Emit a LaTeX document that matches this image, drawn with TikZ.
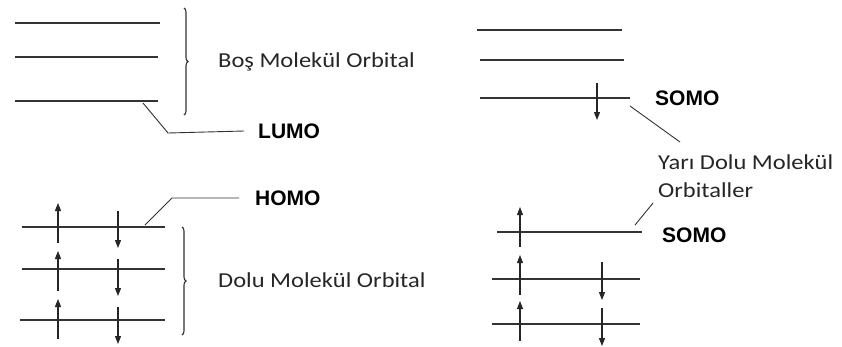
\documentclass[tikz,border=0pt]{standalone}
\usepackage{fontspec}
\setmainfont{Carlito}[FakeStretch=1.15]
\newfontfamily\tagfont{Liberation Sans}
\usetikzlibrary{positioning,arrows.meta,decorations.pathreplacing}
\definecolor{lvInk}{HTML}{333333}
\definecolor{txInk}{HTML}{262626}
\tikzset{
  level/.style={draw=lvInk, line width=2.8pt},
  pin/.style={draw=lvInk, line width=0.9pt},
  spin/.style={draw=txInk, line width=1.1pt, -{Triangle[length=8pt,width=6pt]}},
  grp/.style={draw=lvInk, line width=1.1pt, decorate,
    decoration={brace, amplitude=4pt}},
  desc/.style={font=\fontsize{21.3}{28}\selectfont, text=txInk, anchor=west,
    inner sep=0pt, align=left},
  tag/.style={font=\tagfont\bfseries\fontsize{21}{22}\selectfont, text=black,
    anchor=west, inner sep=0pt},
}

\begin{document}
\begin{tikzpicture}[x=1pt,y=-1pt]
  \useasboundingbox (0,0) rectangle (842,346);
  % bos orbitaller (sol)
  \draw[level] (15,23) coordinate (b1w) -- (160,23) coordinate (b1e);
  \draw[level] (15,57) coordinate (b2w) -- (158,57) coordinate (b2e);
  \draw[level] (15,101) coordinate (lumow) -- (158,101) coordinate (lumoe);
  \coordinate (lumopin) at (143,103);
  \draw[grp] (184,8) coordinate (bostop) -- (184,115) coordinate (bosbot);
  \node[desc] (bos) at (218,62) {Boş Molekül Orbital};
  \node[tag] (lumo) at (258,131) {LUMO};
  \draw[pin] (lumopin) -- (168,133) -- ([xshift=-14pt]lumo.west);
  % dolu orbitaller (sol)
  \draw[level] (22,227) coordinate (homow) -- (165,227) coordinate (homoe);
  \draw[level] (22,269) coordinate (d2w) -- (165,269) coordinate (d2e);
  \draw[level] (20,320) coordinate (d3w) -- (165,320) coordinate (d3e);
  \coordinate (homopin) at (145,225);
  \node[tag] (homo) at (255,198) {HOMO};
  \draw[pin] (homopin) -- (172,198) -- ([xshift=-16pt]homo.west);
  \draw[grp] (182,227) coordinate (dolutop) -- (182,335) coordinate (dolubot);
  \node[desc] (dolu) at (218,280) {Dolu Molekül Orbital};
  \foreach \y in {0,48,96} {
    \draw[spin] (58,243+\y) -- (58,203+\y);
    \draw[spin] (118,211+\y) -- (118,248+\y);
  }
  % yari dolu orbitaller (sag)
  \draw[level] (477,30) coordinate (r1w) -- (622,30) coordinate (r1e);
  \draw[level] (480,60) coordinate (r2w) -- (624,60) coordinate (r2e);
  \draw[level] (480,98) coordinate (s1w) -- (630,98) coordinate (s1e);
  \draw[spin] (597,83) -- (597,120);
  \node[tag] (somoa) at (655,98) {SOMO};
  \node[desc] (yari) at (658,176) {Yarı Dolu Molekül\\Orbitaller};
  \draw[pin] (630,106) -- (680,142);
  \draw[level] (497,232) coordinate (s2w) -- (642,232) coordinate (s2e);
  \node[tag] (somob) at (662,235) {SOMO};
  \draw[pin] (635,225) -- (653,203);
  \draw[level] (492,279) coordinate (r4w) -- (640,279) coordinate (r4e);
  \draw[level] (492,324) coordinate (r5w) -- (640,324) coordinate (r5e);
  \draw[spin] (520,247) -- (520,207);
  \foreach \y in {0,46} {
    \draw[spin] (520,295+\y) -- (520,255+\y);
    \draw[spin] (602,262+\y) -- (602,300+\y);
  }
\end{tikzpicture}
\end{document}
